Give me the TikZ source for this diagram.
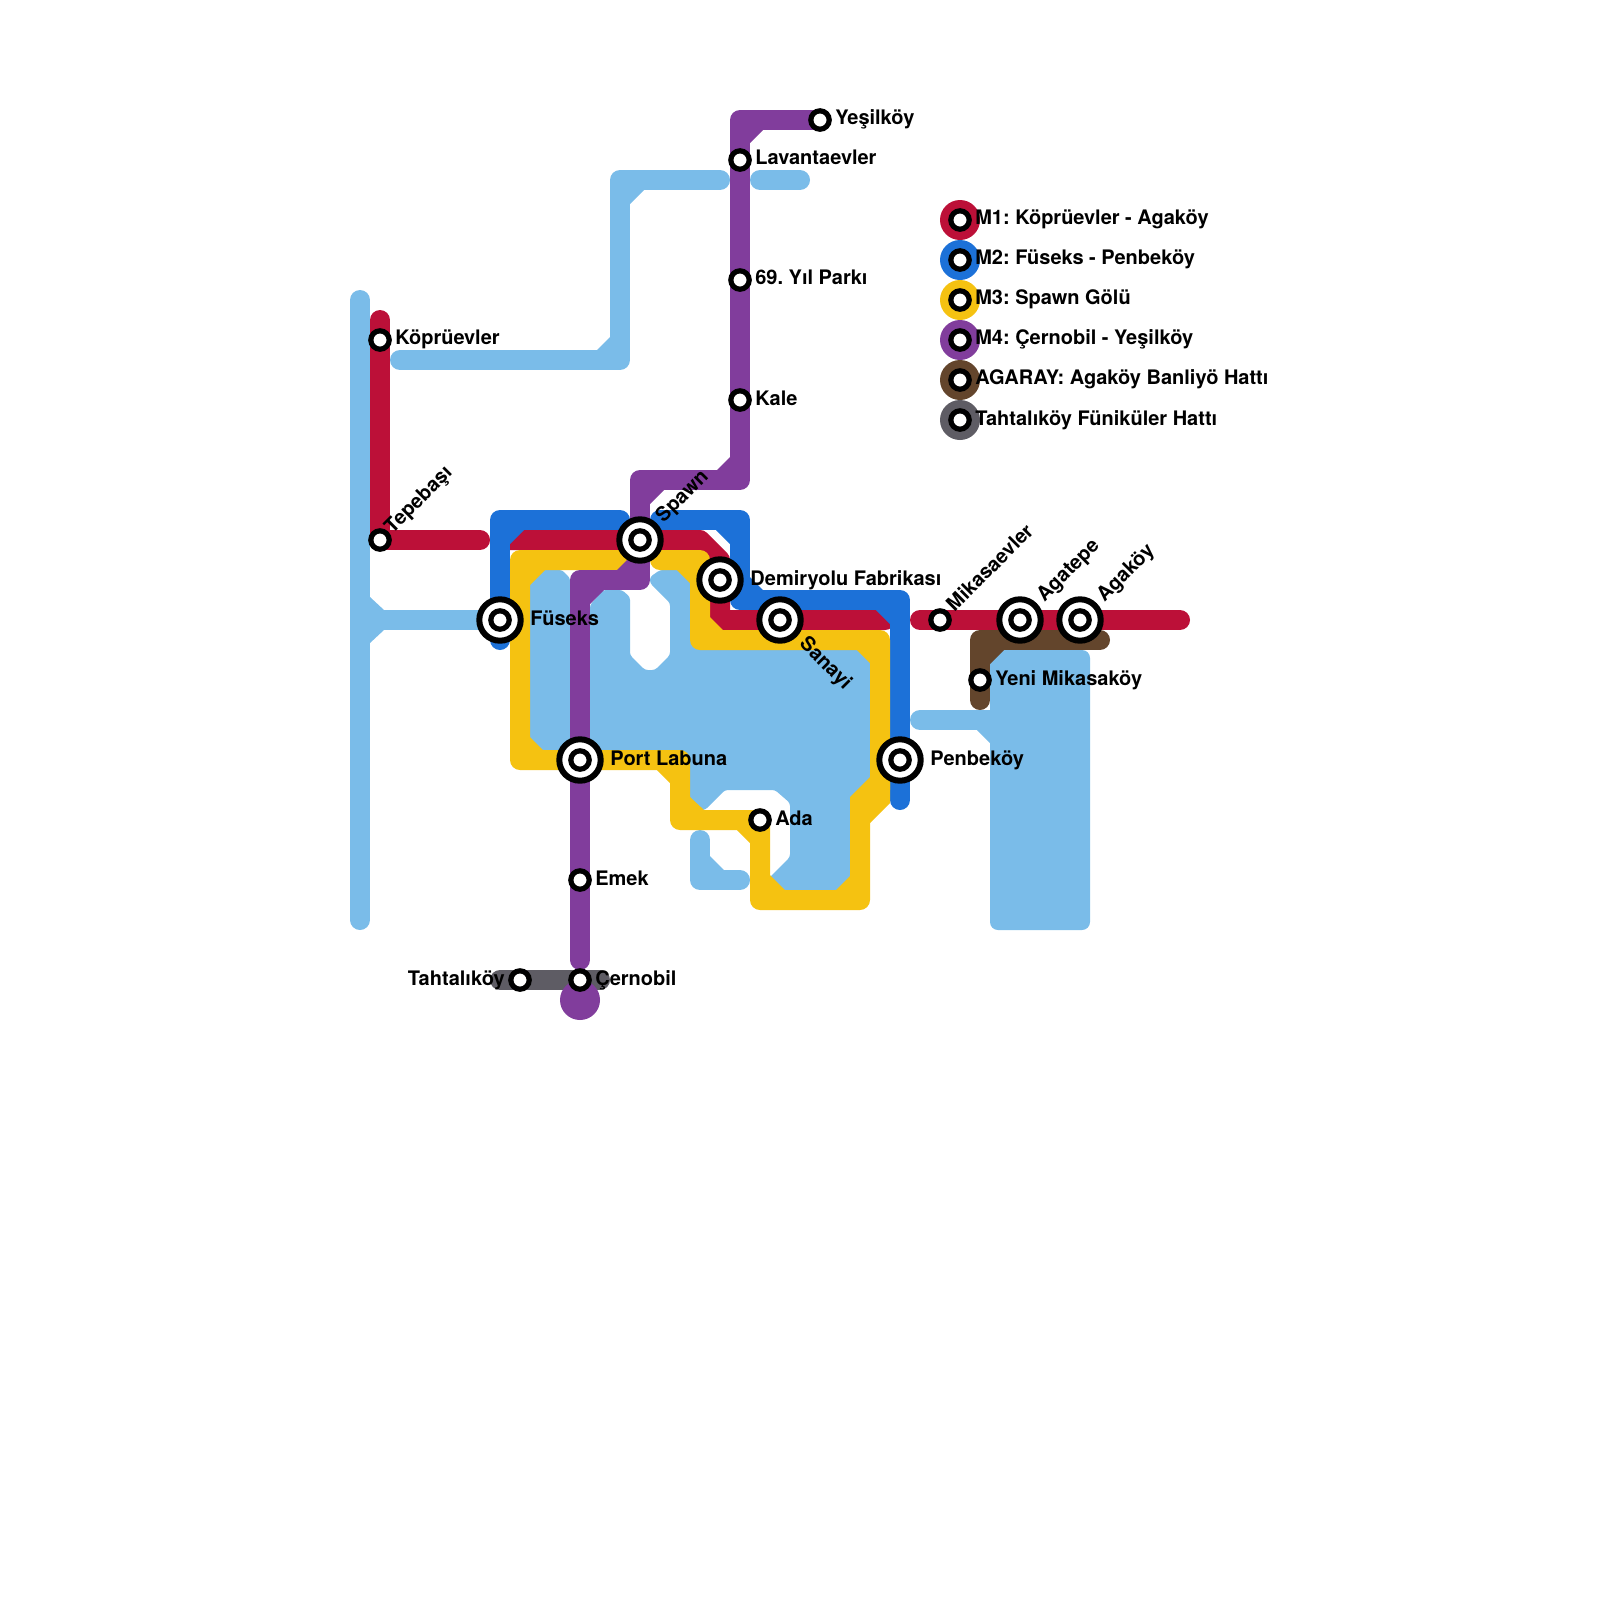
\documentclass[tikz,border=0pt]{standalone}
\usepackage{fontspec}
\setmainfont{TeX Gyre Heros}
\usetikzlibrary{positioning, backgrounds}
\definecolor{lineM1}{HTML}{BC1038}
\definecolor{lineM2}{HTML}{1C71D8}
\definecolor{lineM3}{HTML}{F5C211}
\definecolor{lineM4}{HTML}{813D9C}
\definecolor{lineAG}{HTML}{63452C}
\definecolor{lineTF}{HTML}{5E5C64}
\definecolor{water}{HTML}{7ABCE9}
\tikzset{
	metro/.style={line width=0.5cm, line cap=round, line join=round},
	station/.style={circle, draw=black, fill=white, line width=0.13cm, minimum size=0.46cm, inner sep=0pt},
	hub/.style={circle, draw=black, fill=white, line width=0.15cm, minimum size=1.035cm, inner sep=0pt},
	legdot/.style={circle, minimum size=1cm, inner sep=0pt},
	stopname/.style={font=\bfseries\fontsize{14.22}{16}\selectfont\frenchspacing, inner sep=0pt, text height=7.1pt, text depth=0pt}
}

\begin{document}
\begin{tikzpicture}[x=0.025cm, y=-0.025cm]
	\useasboundingbox (0,0) rectangle (1600,1600);

	% Stations
	\node (kopruevler) [station] at (380,340) {};
	\node (tepebasi) [station] at (380,540) {};
	\node (mikasaevler) [station] at (940,620) {};
	\node (yeni) [station] at (980,680) {};
	\node (yesilkoy) [station] at (820,120) {};
	\node (lavanta) [station] at (740,160) {};
	\node (yilparki) [station] at (740,280) {};
	\node (kale) [station] at (740,400) {};
	\node (ada) [station] at (760,820) {};
	\node (emek) [station] at (580,880) {};
	\node (cernobil) [station] at (580,980) {};
	\node (tahtalikoy) [station] at (520,980) {};

	% Interchanges
	\node (fuseks) [hub] at (500,620) {};
	\node (spawn) [hub] at (640,540) {};
	\node (demiryolu) [hub] at (720,580) {};
	\node (sanayi) [hub] at (780,620) {};
	\node (agatepe) [hub] at (1020,620) {};
	\node (agakoy) [hub] at (1080,620) {};
	\node (penbekoy) [hub] at (900,760) {};
	\node (portlabuna) [hub] at (580,760) {};
	\node (fuseksin) [station] at (fuseks) {};
	\node (spawnin) [station] at (spawn) {};
	\node (demiryoluin) [station] at (demiryolu) {};
	\node (sanayiin) [station] at (sanayi) {};
	\node (agatepein) [station] at (agatepe) {};
	\node (agakoyin) [station] at (agakoy) {};
	\node (penbekoyin) [station] at (penbekoy) {};
	\node (portlabunain) [station] at (portlabuna) {};

	% Station names
	\node (kopruevlerT) [stopname, right=2.3pt of kopruevler] {Köprüevler};
	\node (yesilkoyT) [stopname, right=2.3pt of yesilkoy] {Yeşilköy};
	\node (lavantaT) [stopname, right=2.3pt of lavanta] {Lavantaevler};
	\node (yilparkiT) [stopname, right=2.3pt of yilparki] {69. Yıl Parkı};
	\node (kaleT) [stopname, right=2.3pt of kale] {Kale};
	\node (adaT) [stopname, right=2.3pt of ada] {Ada};
	\node (emekT) [stopname, right=2.3pt of emek] {Emek};
	\node (cernobilT) [stopname, right=2.3pt of cernobil] {Çernobil};
	\node (yeniT) [stopname, right=2.3pt of yeni] {Yeni Mikasaköy};
	\node (tahtalikoyT) [stopname, left=2.3pt of tahtalikoy] {Tahtalıköy};
	\node (fuseksT) [stopname, right=4.6pt of fuseks] {Füseks};
	\node (demiryoluT) [stopname, right=4.6pt of demiryolu] {Demiryolu Fabrikası};
	\node (penbekoyT) [stopname, right=4.6pt of penbekoy] {Penbeköy};
	\node (portlabunaT) [stopname, right=4.6pt of portlabuna] {Port Labuna};
	\node (tepebasiT) [stopname, rotate=45, anchor=west] at (389,531) {Tepebaşı};
	\node (mikasaevlerT) [stopname, rotate=45, anchor=west] at (951,609) {Mikasaevler};
	\node (spawnT) [stopname, rotate=45, anchor=west] at (660,520) {Spawn};
	\node (agatepeT) [stopname, rotate=45, anchor=west] at (1041,599) {Agatepe};
	\node (agakoyT) [stopname, rotate=45, anchor=west] at (1101,599) {Agaköy};
	\node (sanayiT) [stopname, rotate=-45, anchor=west] at (802,641) {Sanayi};

	% Legend
	\node (leg1) [legdot, fill=lineM1] at (960,220) {};
	\node (leg2) [legdot, fill=lineM2] at (960,260) {};
	\node (leg3) [legdot, fill=lineM3] at (960,300) {};
	\node (leg4) [legdot, fill=lineM4] at (960,340) {};
	\node (leg5) [legdot, fill=lineAG] at (960,380) {};
	\node (leg6) [legdot, fill=lineTF] at (960,420) {};
	\node (leg1s) [station] at (leg1) {};
	\node (leg2s) [station] at (leg2) {};
	\node (leg3s) [station] at (leg3) {};
	\node (leg4s) [station] at (leg4) {};
	\node (leg5s) [station] at (leg5) {};
	\node (leg6s) [station] at (leg6) {};
	\node (leg1T) [stopname, anchor=west] at (975,220) {M1: Köprüevler - Agaköy};
	\node (leg2T) [stopname, anchor=west] at (975,260) {M2: Füseks - Penbeköy};
	\node (leg3T) [stopname, anchor=west] at (975,300) {M3: Spawn Gölü};
	\node (leg4T) [stopname, anchor=west] at (975,340) {M4: Çernobil - Yeşilköy};
	\node (leg5T) [stopname, anchor=west] at (975,380) {AGARAY: Agaköy Banliyö Hattı};
	\node (leg6T) [stopname, anchor=west] at (975,420) {Tahtalıköy Füniküler Hattı};

	\begin{pgfonlayer}{background}
		% Water
		\draw [metro, water] (360,300) -- (360,920);
		\draw [metro, water] (360,620) -- (fuseks.center);
		\draw [metro, water] (400,360) -- (620,360) -- (620,180) -- (720,180);
		\draw [metro, water] (760,180) -- (800,180);
		\draw [metro, water] (700,840) -- (700,880) -- (740,880);
		\draw [metro, water] (920,720) -- (1000,720);
		\fill [water, rounded corners=5.7pt] (990,650) -- (1090,650) -- (1090,930) -- (990,930) -- cycle;
		\fill [water, rounded corners=2pt] (530,570) -- (562,570) -- (570,578) -- (570,700) -- (590,700) -- (590,605) -- (603,590) -- (622,590) -- (630,597) -- (630,655) -- (645,670) -- (655,670) -- (670,655) -- (670,603) -- (650,583) -- (650,577) -- (660,570) -- (695,570) -- (695,645) -- (875,645) -- (875,780) -- (855,800) -- (855,895) -- (765,895) -- (765,882) -- (790,857) -- (790,803) -- (775,790) -- (725,790) -- (705,810) -- (685,810) -- (685,755) -- (530,755) -- cycle;
		\foreach \ax/\ay/\bx/\by/\cx/\cy in {370/597/384/610/370/610, 370/643/384/630/370/630, 597/350/610/337/610/350, 630/204/644/190/630/190, 710/856/724/870/710/870, 977/730/990/743/990/730}
			\fill [water] (\ax,\ay) -- (\bx,\by) -- (\cx,\cy) -- cycle;

		% M1
		\draw [metro, lineM1] (380,320) -- (tepebasi.center) -- (480,540);
		\draw [metro, lineM1] (510,540) -- (spawn.center) -- (700,540) -- (720,560) -- (720,620) -- (sanayi.center) -- (885,620);
		\draw [metro, lineM1] (920,620) -- (mikasaevler.center) -- (agatepe.center) -- (agakoy.center) -- (1180,620);

		% M2
		\draw [metro, lineM2] (500,640) -- (fuseks.center) -- (500,520) -- (620,520);
		\draw [metro, lineM2] (660,520) -- (740,520) -- (740,600) -- (900,600) -- (penbekoy.center) -- (900,800);
		\foreach \ax/\ay/\bx/\by/\cx/\cy in {510/544/524/530/510/530, 716/530/730/544/730/530, 750/577/763/590/750/590, 876/610/890/624/890/610}
			\fill [lineM2] (\ax,\ay) -- (\bx,\by) -- (\cx,\cy) -- cycle;

		% M3
		\draw [metro, lineM3] (640,560) -- (520,560) -- (520,760) -- (portlabuna.center) -- (680,760) -- (680,820) -- (ada.center) -- (760,900) -- (860,900) -- (860,810) -- (880,790) -- (880,640) -- (700,640) -- (700,560) -- (660,560);
		\fill [lineM3] (870,777) -- (850,797) -- (850,830) -- (870,823) -- (890,803) -- (890,770) -- cycle;
		\foreach \ax/\ay/\bx/\by/\cx/\cy in {530/585/545/570/530/570, 530/737/543/750/530/750, 657/770/670/783/670/770, 690/797/704/810/690/810, 737/830/750/843/750/830, 770/875/785/890/770/890, 836/890/850/876/850/890, 677/570/690/583/690/570, 857/650/870/663/870/650, 710/617/723/630/710/630}
			\fill [lineM3] (\ax,\ay) -- (\bx,\by) -- (\cx,\cy) -- cycle;

		% Funicular and AGARAY
		\draw [metro, lineTF] (500,980) -- (tahtalikoy.center) -- (cernobil.center) -- (600,980);
		\draw [metro, lineAG] (980,700) -- (yeni.center) -- (980,640) -- (1100,640);
		\fill [lineAG] (990,664) -- (1004,650) -- (990,650) -- cycle;

		% M4
		\node (cernobilEnd) [legdot, fill=lineM4] at (580,1000) {};
		\draw [metro, lineM4] (yesilkoy.center) -| (lavanta.center) -- (yilparki.center) -- (kale.center) -- (740,480) -- (640,480) -- (spawn.center) -- (640,580) -- (580,580) -- (portlabuna.center) -- (emek.center) -- (580,960);
		\foreach \ax/\ay/\bx/\by/\cx/\cy in {750/143/763/130/750/130, 717/470/730/457/730/470, 650/504/664/490/650/490, 617/570/630/557/630/570, 590/604/604/590/590/590}
			\fill [lineM4] (\ax,\ay) -- (\bx,\by) -- (\cx,\cy) -- cycle;
	\end{pgfonlayer}
\end{tikzpicture}
\end{document}
